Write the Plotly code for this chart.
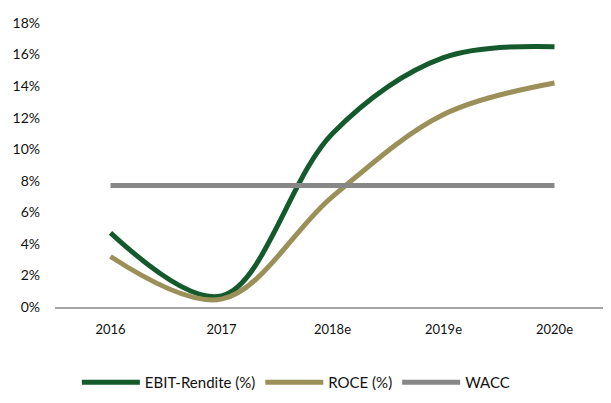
import plotly.graph_objects as go

years = ["2016", "2017", "2018e", "2019e", "2020e"]
ebit = [4.7, 0.7, 11.0, 15.8, 16.5]
roce = [3.2, 0.5, 7.0, 12.2, 14.2]
wacc = [7.7, 7.7, 7.7, 7.7, 7.7]
y_ticks = [0, 2, 4, 6, 8, 10, 12, 14, 16, 18]
y_tick_labels = [f"{v}%" for v in y_ticks]

fig = go.Figure()
fig.add_trace(go.Scatter(x=years, y=ebit, name="EBIT-Rendite (%)", mode="lines",
                         line=dict(color="#145A2C", width=5, shape="spline", smoothing=1.0)))
fig.add_trace(go.Scatter(x=years, y=roce, name="ROCE (%)", mode="lines",
                         line=dict(color="#9A9058", width=5, shape="spline", smoothing=1.0)))
fig.add_trace(go.Scatter(x=years, y=wacc, name="WACC", mode="lines",
                         line=dict(color="#878787", width=5)))

fig.update_layout(
    width=603, height=395,
    margin=dict(l=47, r=1, t=15, b=96),
    paper_bgcolor="white", plot_bgcolor="white",
    font=dict(family="Lato, 'Open Sans', sans-serif", size=13, color="#111111"),
    showlegend=True,
    legend=dict(orientation="h", x=0.434, xanchor="center", y=-0.266, yanchor="middle",
                font=dict(size=15), itemwidth=58, tracegroupgap=0),
    xaxis=dict(type="category", range=[-0.5, 4.5], showgrid=False, zeroline=False,
               showline=True, linecolor="#A6A6A6", linewidth=1.5, ticks="",
               ticklabelstandoff=10),
    yaxis=dict(range=[0, 18], tickvals=y_ticks, ticktext=y_tick_labels, showgrid=False,
               zeroline=False, showline=False, ticks="", ticklabelstandoff=14,
               tickfont=dict(size=14)),
)

fig.write_html("out.html")
